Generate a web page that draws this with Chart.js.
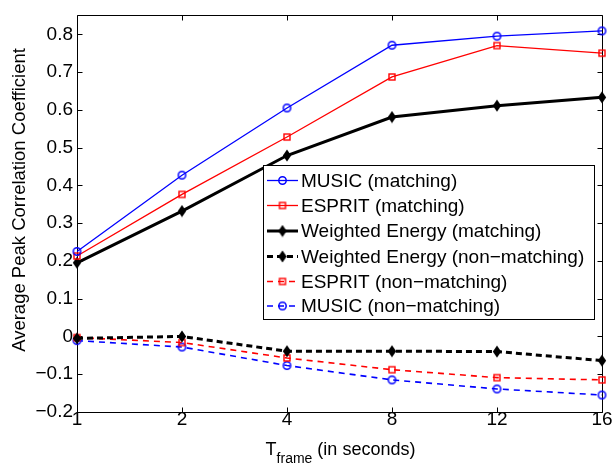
<!DOCTYPE html>
<html>
<head>
<meta charset="utf-8">
<script src="https://cdn.jsdelivr.net/npm/chart.js@4.4.1/dist/chart.umd.min.js"></script>
<style>
  html, body { margin: 0; padding: 0; background: #ffffff; }
  #wrap { width: 614px; height: 465px; }
</style>
</head>
<body>
<div id="wrap"><canvas id="c" width="614" height="465"></canvas></div>
<script>
// Frame lengths (seconds) and the measured average peak correlation per method
const frameLengths = ['1', '2', '4', '8', '12', '16'];
const musicMatching     = [0.225, 0.427, 0.605, 0.771, 0.795, 0.809];
const espritMatching    = [0.213, 0.376, 0.528, 0.687, 0.770, 0.750];
const energyMatching    = [0.195, 0.332, 0.479, 0.581, 0.611, 0.633];
const energyNonMatching = [-0.005, 0.000, -0.039, -0.039, -0.040, -0.064];
const espritNonMatching = [-0.003, -0.016, -0.057, -0.088, -0.109, -0.115];
const musicNonMatching  = [-0.011, -0.028, -0.077, -0.115, -0.139, -0.155];
const yMin = -0.2, yMax = 0.85, yStep = 0.1;

const FONT = '"Liberation Sans", Arial, Helvetica, sans-serif';
const BLUE = '#0000ff', RED = '#ff0000', BLACK = '#000000';

// Marker bitmaps (MATLAB-style open circle, open square, filled diamond)
function marker(kind, color) {
  const c = document.createElement('canvas');
  const ctx = c.getContext('2d');
  if (kind === 'circle') {
    c.width = 11; c.height = 11;
    ctx.strokeStyle = color; ctx.lineWidth = 1.5;
    ctx.beginPath(); ctx.arc(5.5, 5.5, 3.7, 0, Math.PI * 2); ctx.stroke();
  } else if (kind === 'square') {
    c.width = 10; c.height = 10;
    ctx.strokeStyle = color; ctx.lineWidth = 1.4;
    ctx.strokeRect(2, 2, 6, 6);
  } else {
    c.width = 10; c.height = 13;
    ctx.fillStyle = color;
    ctx.beginPath();
    ctx.moveTo(5, 0.5); ctx.lineTo(9.2, 6.5); ctx.lineTo(5, 12.5); ctx.lineTo(0.8, 6.5);
    ctx.closePath(); ctx.fill();
  }
  return c;
}

function series(label, data, color, kind, width, dash) {
  return {
    label, data,
    borderColor: color, backgroundColor: color,
    borderWidth: width, borderDash: dash,
    pointStyle: marker(kind, color),
    pointRadius: 5, pointHoverRadius: 5,
    tension: 0, fill: false, clip: false
  };
}

const datasets = [
  series('MUSIC (matching)', musicMatching, BLUE, 'circle', 1.3, []),
  series('ESPRIT (matching)', espritMatching, RED, 'square', 1.3, []),
  series('Weighted Energy (matching)', energyMatching, BLACK, 'diamond', 3, []),
  series('Weighted Energy (non\u2212matching)', energyNonMatching, BLACK, 'diamond', 3, [6, 4]),
  series('ESPRIT (non\u2212matching)', espritNonMatching, RED, 'square', 1.6, [6, 5]),
  series('MUSIC (non\u2212matching)', musicNonMatching, BLUE, 'circle', 1.6, [6, 5])
];

function fmt(v) {
  if (Math.abs(v) < 1e-9) return '0';
  return v.toFixed(1).replace('-', '\u2212');
}

// Box frame with inward ticks on all four sides, axis titles and legend
const framePlugin = {
  id: 'frame',
  beforeDatasetsDraw(chart) {
    const { ctx, chartArea: a, scales } = chart;
    const L = Math.round(a.left) + 0.5, R = Math.round(a.right) + 0.5;
    const T = Math.round(a.top) + 0.5, B = Math.round(a.bottom) + 0.5;
    ctx.save();
    ctx.strokeStyle = '#000'; ctx.lineWidth = 1;
    ctx.beginPath(); ctx.rect(L, T, R - L, B - T); ctx.stroke();
    const tl = 5;
    ctx.beginPath();
    scales.x.ticks.forEach((t, i) => {
      const x = Math.round(scales.x.getPixelForTick(i)) + 0.5;
      ctx.moveTo(x, B); ctx.lineTo(x, B - tl);
      ctx.moveTo(x, T); ctx.lineTo(x, T + tl);
    });
    scales.y.ticks.forEach(t => {
      const y = Math.round(scales.y.getPixelForValue(t.value)) + 0.5;
      ctx.moveTo(L, y); ctx.lineTo(L + tl, y);
      ctx.moveTo(R, y); ctx.lineTo(R - tl, y);
    });
    ctx.stroke();
    ctx.restore();
  },
  afterDraw(chart) {
    const { ctx, chartArea: a } = chart;
    ctx.save();
    ctx.fillStyle = '#000';
    // y title
    ctx.font = '18.5px ' + FONT;
    ctx.textAlign = 'center'; ctx.textBaseline = 'middle';
    ctx.save();
    ctx.translate(20, 200);
    ctx.rotate(-Math.PI / 2);
    ctx.fillText('Average Peak Correlation Coefficient', 0, 0);
    ctx.restore();
    // x title with subscript
    const mainFont = '18px ' + FONT, subFont = '14px ' + FONT;
    const p1 = 'T', p2 = 'frame', p3 = ' (in seconds)';
    ctx.font = mainFont; const w1 = ctx.measureText(p1).width, w3 = ctx.measureText(p3).width;
    ctx.font = subFont; const w2 = ctx.measureText(p2).width;
    let x = (a.left + a.right) / 2 - (w1 + w2 + w3) / 2 + 1;
    const base = 455;
    ctx.textAlign = 'left'; ctx.textBaseline = 'alphabetic';
    ctx.font = mainFont; ctx.fillText(p1, x, base); x += w1;
    ctx.font = subFont; ctx.fillText(p2, x, base + 8); x += w2;
    ctx.font = mainFont; ctx.fillText(p3, x, base);
    // legend
    const bx = 263.5, by = 165.5, bw = 331, bh = 154;
    ctx.fillStyle = '#fff'; ctx.fillRect(bx, by, bw, bh);
    ctx.strokeStyle = '#000'; ctx.lineWidth = 1; ctx.strokeRect(bx, by, bw, bh);
    const rows = [180.5, 205.5, 231, 256.5, 281.5, 306];
    chart.data.datasets.forEach((ds, i) => {
      const y = rows[i];
      ctx.save();
      ctx.strokeStyle = ds.borderColor; ctx.lineWidth = ds.borderWidth;
      ctx.setLineDash(ds.borderDash || []);
      ctx.beginPath(); ctx.moveTo(267, y); ctx.lineTo(298, y); ctx.stroke();
      ctx.restore();
      const img = ds.pointStyle;
      ctx.drawImage(img, 282.5 - img.width / 2, y - img.height / 2);
      ctx.fillStyle = '#000'; ctx.font = '19px ' + FONT;
      ctx.textAlign = 'left'; ctx.textBaseline = 'middle';
      ctx.fillText(ds.label, 301, y + 1);
    });
    ctx.restore();
  }
};

new Chart(document.getElementById('c'), {
  type: 'line',
  data: { labels: frameLengths, datasets },
  options: {
    responsive: false,
    animation: false,
    devicePixelRatio: 1,
    layout: { padding: { top: 1, right: 12, left: 0, bottom: 0 } },
    plugins: { legend: { display: false }, tooltip: { enabled: false } },
    scales: {
      x: {
        type: 'category',
        offset: false,
        grid: { display: false, drawTicks: false },
        border: { display: false },
        ticks: { color: '#000', font: { family: FONT, size: 19, lineHeight: 0.85 }, padding: 0, maxRotation: 0, autoSkip: false },
        afterFit(s) { s.height = 53; }
      },
      y: {
        min: yMin, max: yMax,
        grid: { display: false, drawTicks: false },
        border: { display: false },
        ticks: {
          stepSize: yStep, includeBounds: false,
          color: '#000', font: { family: FONT, size: 19 }, padding: 4,
          callback: v => fmt(v)
        },
        afterFit(s) { s.width = 77; }
      }
    }
  },
  plugins: [framePlugin]
});
</script>
</body>
</html>
